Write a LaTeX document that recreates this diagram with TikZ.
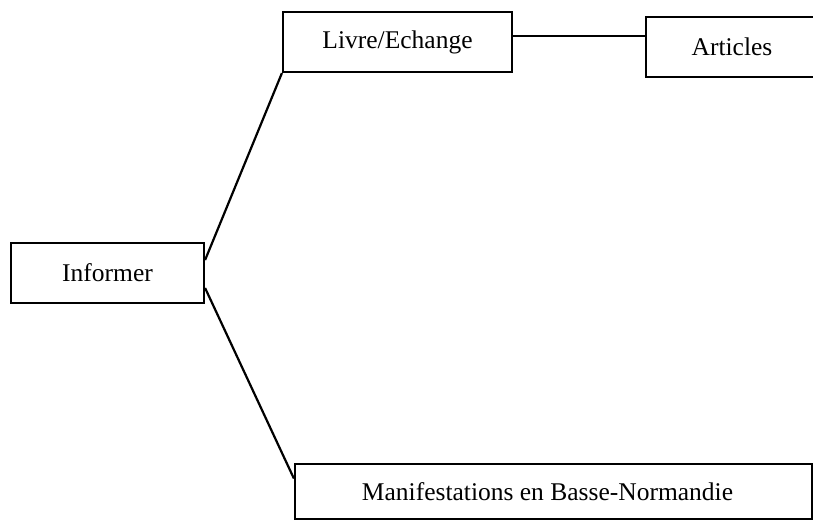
\documentclass[tikz,border=0pt]{standalone}
\usepackage{fontspec}
\setmainfont{Liberation Serif}
\begin{document}
\begin{tikzpicture}[x=1pt,y=-1pt,
  box/.style={draw=black, line width=2.2pt, fill=white, inner sep=0pt,
    font=\fontsize{25.5}{30}\selectfont, text=black},
  link/.style={draw=black, line width=2.2pt}]
  \useasboundingbox (0,0) rectangle (813,525);
  \clip (0,0) rectangle (813,525);

  % boxes
  \node[box, minimum width=193pt, minimum height=60pt] (inf) at (107.5,273) {Informer};
  \node[box, minimum width=229pt, minimum height=60pt] (livre) at (397.5,42) {Livre/Echange};
  \node[box, minimum width=172pt, minimum height=60pt] (art) at (732,47) {Articles};
  \node[box, minimum width=517pt, minimum height=55pt] (manif) at (553.5,491.5) {Manifestations en Basse-Normandie\hspace*{12pt}};

  % connectors
  \draw[link] ([yshift=13pt]inf.east) -- (livre.south west);
  \draw[link] ([yshift=-15pt]inf.east) -- ([yshift=13pt]manif.west);
  \draw[link] ([yshift=6pt]livre.east) -- ([yshift=6pt]livre.east -| art.west);
\end{tikzpicture}
\end{document}
